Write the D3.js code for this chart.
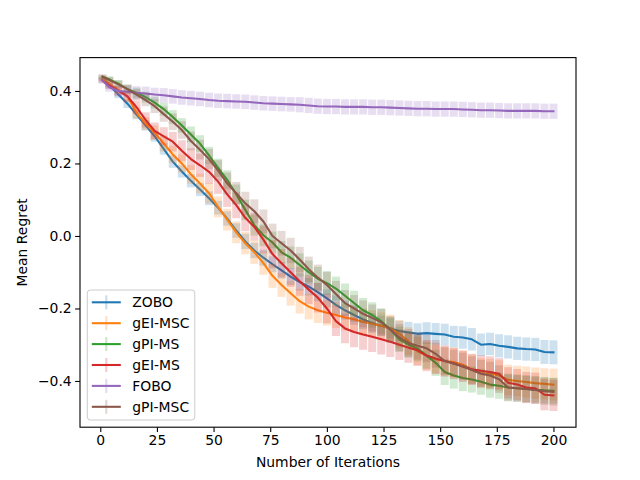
<!DOCTYPE html>
<html>
<head>
<meta charset="utf-8">
<script src="https://cdn.jsdelivr.net/npm/d3@7"></script>
<style>
  body { margin: 0; background: #fff; }
  text { font-family: "DejaVu Sans", sans-serif; }
</style>
</head>
<body>
<div id="chart"></div>
<script>
// iterations where values were read (every 4 steps)
var iterations = [1].concat(d3.range(4, 201, 4));

var seriesNames = ["ZOBO", "gEI-MSC", "gPI-MS", "gEI-MS", "FOBO", "gPI-MSC"];
var seriesColors = ["#1f77b4", "#ff7f0e", "#2ca02c", "#d62728", "#9467bd", "#8c564b"];

var zoboMean = [0.432,0.415,0.39,0.365,0.335,0.305,0.275,0.24,0.205,0.178,0.152,0.128,0.104,0.078,0.048,0.015,-0.015,-0.04,-0.06,-0.078,-0.095,-0.112,-0.127,-0.14,-0.155,-0.172,-0.19,-0.205,-0.218,-0.23,-0.24,-0.248,-0.255,-0.262,-0.266,-0.27,-0.268,-0.27,-0.272,-0.278,-0.28,-0.285,-0.3,-0.298,-0.303,-0.306,-0.31,-0.312,-0.313,-0.32,-0.321];
var zoboErr = [0.005,0.008,0.01,0.012,0.013,0.014,0.015,0.016,0.017,0.017,0.018,0.018,0.019,0.019,0.02,0.02,0.021,0.021,0.022,0.022,0.023,0.023,0.024,0.024,0.025,0.025,0.026,0.026,0.027,0.027,0.027,0.028,0.028,0.028,0.029,0.029,0.03,0.03,0.03,0.03,0.031,0.031,0.031,0.031,0.032,0.032,0.032,0.032,0.032,0.033,0.033];

var geiMscMean = [0.434,0.42,0.403,0.385,0.34,0.31,0.285,0.255,0.225,0.2,0.17,0.145,0.118,0.08,0.045,0.01,-0.02,-0.045,-0.075,-0.11,-0.135,-0.158,-0.18,-0.195,-0.205,-0.212,-0.218,-0.225,-0.23,-0.237,-0.242,-0.248,-0.255,-0.27,-0.29,-0.318,-0.33,-0.34,-0.345,-0.348,-0.355,-0.368,-0.378,-0.38,-0.385,-0.397,-0.4,-0.403,-0.406,-0.408,-0.41];
var geiMscErr = [0.006,0.01,0.012,0.014,0.016,0.018,0.02,0.022,0.024,0.025,0.026,0.027,0.028,0.029,0.03,0.03,0.031,0.032,0.032,0.033,0.033,0.034,0.034,0.035,0.035,0.035,0.036,0.036,0.036,0.037,0.037,0.037,0.038,0.038,0.038,0.039,0.039,0.039,0.04,0.04,0.04,0.041,0.041,0.041,0.042,0.042,0.042,0.043,0.043,0.043,0.044];

var gpiMsMean = [0.438,0.432,0.42,0.405,0.395,0.383,0.368,0.35,0.328,0.305,0.28,0.255,0.222,0.188,0.155,0.115,0.072,0.03,0.002,-0.018,-0.045,-0.06,-0.08,-0.1,-0.118,-0.13,-0.145,-0.165,-0.185,-0.205,-0.218,-0.235,-0.258,-0.285,-0.3,-0.31,-0.33,-0.35,-0.375,-0.385,-0.392,-0.396,-0.402,-0.41,-0.413,-0.418,-0.42,-0.422,-0.424,-0.426,-0.427];
var gpiMsErr = [0.006,0.008,0.01,0.012,0.014,0.015,0.016,0.018,0.019,0.02,0.022,0.023,0.024,0.025,0.026,0.027,0.028,0.029,0.03,0.03,0.031,0.031,0.032,0.032,0.033,0.033,0.033,0.034,0.034,0.034,0.035,0.035,0.035,0.035,0.036,0.036,0.036,0.036,0.036,0.036,0.036,0.036,0.036,0.036,0.036,0.036,0.036,0.036,0.036,0.036,0.036];

var geiMsMean = [0.428,0.415,0.4,0.385,0.355,0.32,0.29,0.275,0.26,0.235,0.212,0.195,0.177,0.15,0.115,0.085,0.05,0.025,-0.01,-0.05,-0.075,-0.1,-0.125,-0.148,-0.17,-0.2,-0.235,-0.255,-0.265,-0.272,-0.278,-0.285,-0.292,-0.3,-0.308,-0.315,-0.33,-0.338,-0.345,-0.352,-0.36,-0.368,-0.372,-0.375,-0.38,-0.405,-0.41,-0.418,-0.42,-0.438,-0.44];
var geiMsErr = [0.006,0.01,0.013,0.016,0.019,0.021,0.023,0.025,0.027,0.029,0.03,0.032,0.033,0.034,0.035,0.036,0.037,0.038,0.038,0.039,0.039,0.04,0.04,0.04,0.041,0.041,0.041,0.041,0.042,0.042,0.042,0.042,0.042,0.042,0.042,0.043,0.043,0.043,0.043,0.043,0.043,0.043,0.043,0.043,0.043,0.043,0.043,0.043,0.043,0.043,0.043];

var foboMean = [0.428,0.41,0.4,0.398,0.395,0.393,0.39,0.388,0.385,0.382,0.38,0.378,0.375,0.373,0.372,0.371,0.37,0.368,0.366,0.365,0.364,0.363,0.362,0.36,0.358,0.357,0.357,0.356,0.356,0.356,0.355,0.355,0.354,0.353,0.352,0.351,0.351,0.35,0.35,0.35,0.349,0.348,0.347,0.347,0.346,0.345,0.345,0.345,0.345,0.344,0.344];
var foboErr = [0.008,0.012,0.015,0.017,0.018,0.019,0.019,0.02,0.02,0.02,0.02,0.02,0.02,0.02,0.02,0.02,0.02,0.02,0.02,0.02,0.02,0.02,0.021,0.021,0.021,0.021,0.021,0.021,0.021,0.021,0.021,0.021,0.021,0.021,0.021,0.021,0.021,0.021,0.021,0.021,0.021,0.021,0.021,0.021,0.021,0.021,0.021,0.021,0.021,0.021,0.021];

var gpiMscMean = [0.44,0.43,0.418,0.405,0.39,0.375,0.358,0.336,0.315,0.292,0.262,0.238,0.212,0.18,0.145,0.118,0.09,0.068,0.04,0.0,-0.02,-0.04,-0.065,-0.092,-0.115,-0.135,-0.16,-0.185,-0.2,-0.215,-0.226,-0.238,-0.258,-0.28,-0.295,-0.303,-0.31,-0.325,-0.345,-0.352,-0.36,-0.37,-0.38,-0.385,-0.395,-0.418,-0.42,-0.422,-0.425,-0.428,-0.43];
var gpiMscErr = [0.006,0.009,0.011,0.013,0.015,0.017,0.019,0.021,0.023,0.024,0.026,0.027,0.028,0.029,0.03,0.031,0.032,0.033,0.033,0.034,0.034,0.035,0.035,0.035,0.036,0.036,0.036,0.036,0.037,0.037,0.037,0.037,0.037,0.037,0.038,0.038,0.038,0.038,0.038,0.038,0.038,0.038,0.038,0.038,0.038,0.038,0.038,0.038,0.038,0.038,0.038];

var xTicks = [0, 25, 50, 75, 100, 125, 150, 175, 200];
var yTicks = [-0.4, -0.2, 0.0, 0.2, 0.4];

var allMeans = [zoboMean, geiMscMean, gpiMsMean, geiMsMean, foboMean, gpiMscMean];
var allErrs = [zoboErr, geiMscErr, gpiMsErr, geiMsErr, foboErr, gpiMscErr];

function drawChart() {
  var width = 640, height = 480;
  var left = 80, right = 576, top = 57.6, bottom = 427.2;

  var svg = d3.select("#chart").append("svg")
    .attr("width", width)
    .attr("height", height);

  var x = d3.scaleLinear().domain([-8.95, 209.95]).range([left, right]);
  var y = d3.scaleLinear().domain([-0.5275, 0.492]).range([bottom, top]);

  // build series objects from the arrays
  var series = seriesNames.map(function(name, i) {
    return {
      name: name,
      color: seriesColors[i],
      points: iterations.map(function(it, j) {
        return {it: it, mean: allMeans[i][j], err: allErrs[i][j]};
      })
    };
  });

  var line = d3.line()
    .x(function(d) { return x(d.it); })
    .y(function(d) { return y(d.mean); });

  series.forEach(function(s) {
    var g = svg.append("g");
    // error bars
    g.selectAll("line.err")
      .data(s.points)
      .enter()
      .append("line")
      .attr("class", "err")
      .attr("x1", function(d) { return x(d.it); })
      .attr("x2", function(d) { return x(d.it); })
      .attr("y1", function(d) { return y(d.mean - d.err); })
      .attr("y2", function(d) { return y(d.mean + d.err); })
      .attr("stroke", s.color)
      .attr("stroke-width", 8)
      .attr("stroke-opacity", 0.22);
    g.append("path")
      .datum(s.points)
      .attr("d", line)
      .attr("fill", "none")
      .attr("stroke", s.color)
      .attr("stroke-width", 2.08)
      .attr("stroke-linejoin", "round")
      .attr("stroke-linecap", "square");
  });

  // axes
  var xAxisGroup = svg.append("g")
    .attr("transform", "translate(0," + bottom + ")")
    .call(d3.axisBottom(x).tickValues(xTicks).tickSize(4.86).tickSizeOuter(0).tickPadding(3.5));
  var yAxisGroup = svg.append("g")
    .attr("transform", "translate(" + left + ",0)")
    .call(d3.axisLeft(y).tickValues(yTicks).tickFormat(d3.format(".1f")).tickSize(4.86).tickSizeOuter(0).tickPadding(3.5));

  [xAxisGroup, yAxisGroup].forEach(function(a) {
    a.select(".domain").remove();
    a.selectAll(".tick line").attr("stroke", "#000").attr("stroke-width", 1.1);
    a.selectAll(".tick text")
      .attr("fill", "#000")
      .style("font-size", "13.9px")
      .style("font-family", "DejaVu Sans");
  });

  // frame
  svg.append("rect")
    .attr("x", left)
    .attr("y", top)
    .attr("width", right - left)
    .attr("height", bottom - top)
    .attr("fill", "none")
    .attr("stroke", "#000")
    .attr("stroke-width", 1.1);

  // axis labels
  svg.append("text")
    .attr("x", (left + right) / 2)
    .attr("y", 467)
    .attr("text-anchor", "middle")
    .style("font-size", "13.9px")
    .text("Number of Iterations");

  svg.append("text")
    .attr("transform", "translate(27," + (top + bottom) / 2 + ") rotate(-90)")
    .attr("text-anchor", "middle")
    .style("font-size", "13.9px")
    .text("Mean Regret");

  // legend
  var legend = svg.append("g").attr("transform", "translate(87.3,290)");
  legend.append("rect")
    .attr("width", 107.5)
    .attr("height", 130)
    .attr("rx", 3)
    .attr("fill", "#fff")
    .attr("fill-opacity", 0.8)
    .attr("stroke", "#cccccc")
    .attr("stroke-width", 1);

  var rows = legend.selectAll("g.row")
    .data(series)
    .enter()
    .append("g")
    .attr("class", "row")
    .attr("transform", function(d, i) { return "translate(0," + (12.3 + i * 20.9) + ")"; });

  rows.append("line")
    .attr("x1", 19).attr("x2", 19)
    .attr("y1", -7).attr("y2", 7)
    .attr("stroke", function(d) { return d.color; })
    .attr("stroke-width", 2.08)
    .attr("stroke-opacity", 0.25);
  rows.append("line")
    .attr("x1", 4.5).attr("x2", 33.5)
    .attr("y1", 0).attr("y2", 0)
    .attr("stroke", function(d) { return d.color; })
    .attr("stroke-width", 2.08);
  rows.append("text")
    .attr("x", 45)
    .attr("y", 0)
    .attr("dy", "0.36em")
    .style("font-size", "13.9px")
    .text(function(d) { return d.name; });
}

drawChart();
</script>
</body>
</html>
